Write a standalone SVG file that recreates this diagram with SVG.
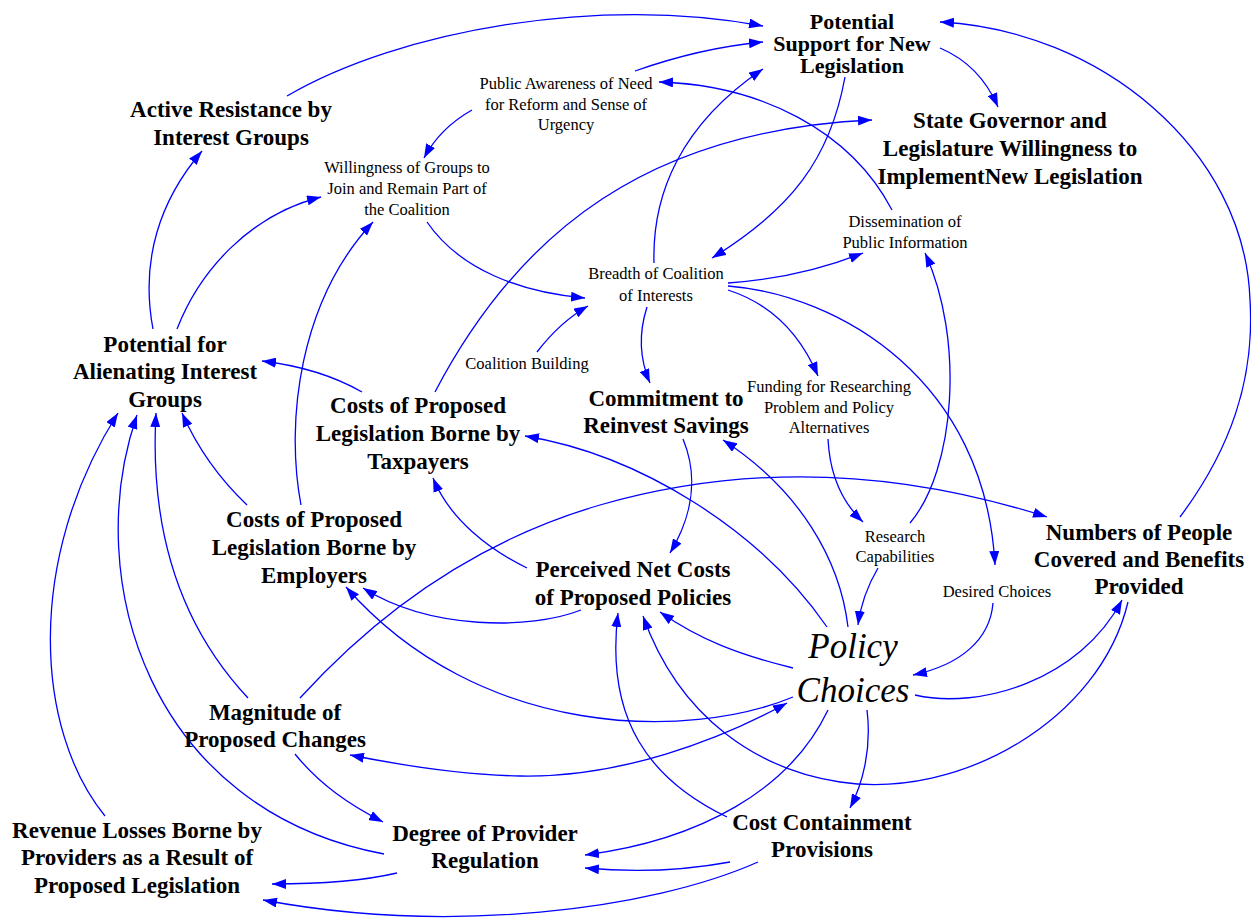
<svg xmlns="http://www.w3.org/2000/svg" width="1251" height="919" viewBox="0 0 1251 919">
  <style>
    .bg { fill: #ffffff; }
    .b { font-family: "Liberation Serif", "Times New Roman", serif; font-weight: bold; font-size: 23px; fill: #000; text-anchor: middle; }
    .bt { font-size: 22px; }
    .r { font-family: "Liberation Serif", "Times New Roman", serif; font-size: 16.5px; fill: #000; text-anchor: middle; }
    .i { font-family: "Liberation Serif", "Times New Roman", serif; font-style: italic; font-size: 35px; fill: #000; text-anchor: middle; }
    .links path { fill: none; stroke: #0000FF; stroke-width: 1.3; marker-end: url(#arrow); }
  </style>
  <defs>
    <marker id="arrow" viewBox="0 0 14 10" refX="14" refY="5" markerWidth="14" markerHeight="10" markerUnits="userSpaceOnUse" orient="auto">
      <path d="M0,0 L14,5 L0,10 z" fill="#0000FF"/>
    </marker>
    <marker id="arrow-start" viewBox="0 0 14 10" refX="14" refY="5" markerWidth="14" markerHeight="10" markerUnits="userSpaceOnUse" orient="auto-start-reverse">
      <path d="M0,0 L14,5 L0,10 z" fill="#0000FF"/>
    </marker>
  </defs>
  <rect class="bg" x="0" y="0" width="1251" height="919"/>

  <!-- causal links -->
  <g id="connectors" class="links">
    <path d="M287,96 C400,30 600,-5 763,26"/>
    <path d="M635,71 Q700,48 763,42"/>
    <path d="M472,110 Q440,128 424,158"/>
    <path d="M654,263 C652,195 680,125 763,69"/>
    <path d="M845,77 C830,160 790,210 712,258"/>
    <path d="M940,48 Q980,65 998,107"/>
    <path d="M1180,517 C1230,450 1255,380 1250,300 C1245,150 1100,30 940,22"/>
    <path d="M427,222 C460,270 520,292 585,298"/>
    <path d="M537,352 Q560,322 588,306"/>
    <path d="M647,307 C638,335 640,360 650,383"/>
    <path d="M728,283 Q800,278 863,253"/>
    <path d="M728,290 Q790,310 818,376"/>
    <path d="M728,286 C840,295 985,380 995,565"/>
    <path d="M910,523 C955,470 965,340 925,253"/>
    <path d="M892,210 C850,130 760,85 659,82"/>
    <path d="M435,392 C520,230 650,130 872,120"/>
    <path d="M153,329 C140,260 160,200 202,151"/>
    <path d="M177,329 C200,270 250,215 321,197"/>
    <path d="M301,505 C285,420 300,300 373,222"/>
    <path d="M362,392 Q320,368 262,361"/>
    <path d="M247,505 Q205,465 182,413"/>
    <path d="M248,698 C175,620 150,520 156,413"/>
    <path d="M384,854 C150,810 80,580 137,415"/>
    <path d="M105,816 C35,730 25,560 118,413"/>
    <path d="M527,568 C490,550 450,520 433,478"/>
    <path d="M581,610 C530,630 430,630 363,588"/>
    <path d="M683,439 C700,480 690,520 670,553"/>
    <path d="M828,439 C830,480 845,505 863,522"/>
    <path d="M878,568 Q862,595 858,625"/>
    <path d="M993,603 C990,640 960,665 913,675"/>
    <path d="M915,695 C980,710 1080,680 1122,600"/>
    <path d="M1128,602 C1100,720 960,800 840,782 C760,770 680,720 643,616"/>
    <path d="M727,817 C650,780 605,720 618,613"/>
    <path d="M793,668 C740,655 700,640 660,612"/>
    <path d="M827,627 C760,530 640,455 525,436"/>
    <path d="M848,627 C840,560 800,490 723,440"/>
    <path d="M793,697 C690,740 480,740 346,587"/>
    <path d="M787,703 C720,740 620,778 520,776 C460,775 400,765 350,755" marker-start="url(#arrow-start)"/>
    <path d="M828,710 C790,790 700,840 585,855"/>
    <path d="M867,710 C872,750 862,785 850,808"/>
    <path d="M730,862 Q660,875 585,868"/>
    <path d="M758,862 C650,910 450,935 263,900"/>
    <path d="M397,873 Q350,884 272,884"/>
    <path d="M295,754 C320,785 350,805 383,822"/>
    <path d="M300,698 C380,610 480,540 600,505 C750,462 900,470 1047,517"/>
  </g>

  <g id="n-support"><text class="b bt" x="852"><tspan x="852" y="29">Potential</tspan><tspan x="852" y="51">Support for New</tspan><tspan x="852" y="73">Legislation</tspan></text></g>
  <g id="n-governor"><text class="b" x="1010"><tspan x="1010" y="128">State Governor and</tspan><tspan x="1010" y="156">Legislature Willingness to</tspan><tspan x="1010" y="184">ImplementNew Legislation</tspan></text></g>
  <g id="n-resistance"><text class="b" x="231"><tspan x="231" y="117">Active Resistance by</tspan><tspan x="231" y="145">Interest Groups</tspan></text></g>
  <g id="n-alienating"><text class="b" x="165"><tspan x="165" y="352">Potential for</tspan><tspan x="165" y="379">Alienating Interest</tspan><tspan x="165" y="407">Groups</tspan></text></g>
  <g id="n-taxpayers"><text class="b" x="418"><tspan x="418" y="413">Costs of Proposed</tspan><tspan x="418" y="441">Legislation Borne by</tspan><tspan x="418" y="469">Taxpayers</tspan></text></g>
  <g id="n-employers"><text class="b" x="314"><tspan x="314" y="527">Costs of Proposed</tspan><tspan x="314" y="555">Legislation Borne by</tspan><tspan x="314" y="583">Employers</tspan></text></g>
  <g id="n-commitment"><text class="b" x="666"><tspan x="666" y="406">Commitment to</tspan><tspan x="666" y="433">Reinvest Savings</tspan></text></g>
  <g id="n-perceived"><text class="b" x="633"><tspan x="633" y="577">Perceived Net Costs</tspan><tspan x="633" y="605">of Proposed Policies</tspan></text></g>
  <g id="n-numbers"><text class="b" x="1139"><tspan x="1139" y="540">Numbers of People</tspan><tspan x="1139" y="567">Covered and Benefits</tspan><tspan x="1139" y="594">Provided</tspan></text></g>
  <g id="n-magnitude"><text class="b" x="275"><tspan x="275" y="720">Magnitude of</tspan><tspan x="275" y="747">Proposed Changes</tspan></text></g>
  <g id="n-revenue"><text class="b" x="137"><tspan x="137" y="838">Revenue Losses Borne by</tspan><tspan x="137" y="865">Providers as a Result of</tspan><tspan x="137" y="893">Proposed Legislation</tspan></text></g>
  <g id="n-degree"><text class="b" x="485"><tspan x="485" y="841">Degree of Provider</tspan><tspan x="485" y="868">Regulation</tspan></text></g>
  <g id="n-containment"><text class="b" x="822"><tspan x="822" y="830">Cost Containment</tspan><tspan x="822" y="857">Provisions</tspan></text></g>

  <g id="n-awareness"><text class="r" x="566"><tspan x="566" y="89">Public Awareness of Need</tspan><tspan x="566" y="110">for Reform and Sense of</tspan><tspan x="566" y="130">Urgency</tspan></text></g>
  <g id="n-willingness"><text class="r" x="407"><tspan x="407" y="173">Willingness of Groups to</tspan><tspan x="407" y="194">Join and Remain Part of</tspan><tspan x="407" y="215">the Coalition</tspan></text></g>
  <g id="n-dissemination"><text class="r" x="905"><tspan x="905" y="227">Dissemination of</tspan><tspan x="905" y="248">Public Information</tspan></text></g>
  <g id="n-breadth"><text class="r" x="656"><tspan x="656" y="279">Breadth of Coalition</tspan><tspan x="656" y="301">of Interests</tspan></text></g>
  <g id="n-coalition"><text class="r" x="527" y="369">Coalition Building</text></g>
  <g id="n-funding"><text class="r" x="829"><tspan x="829" y="392">Funding for Researching</tspan><tspan x="829" y="413">Problem and Policy</tspan><tspan x="829" y="433">Alternatives</tspan></text></g>
  <g id="n-research"><text class="r" x="895"><tspan x="895" y="542">Research</tspan><tspan x="895" y="562">Capabilities</tspan></text></g>
  <g id="n-desired"><text class="r" x="997" y="597">Desired Choices</text></g>

  <g id="n-policy"><text class="i" x="853"><tspan x="853" y="658">Policy</tspan><tspan x="853" y="702">Choices</tspan></text></g>
</svg>
